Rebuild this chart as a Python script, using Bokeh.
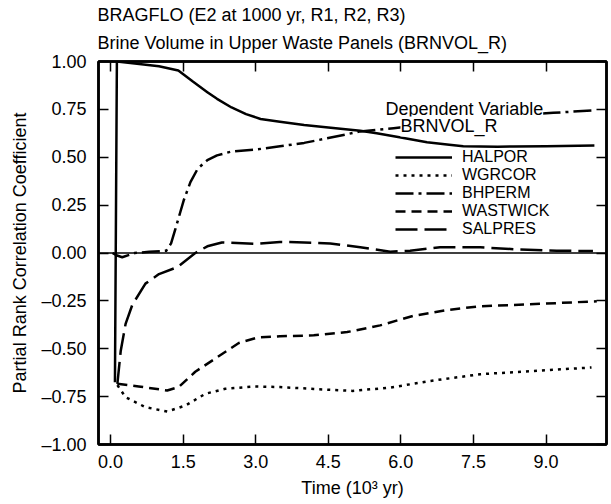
from bokeh.plotting import figure
from bokeh.models import (Range1d, LinearAxis, FixedTicker, Span, Label,
                          Legend, LegendItem, Title)
from bokeh.embed import file_html
from bokeh.resources import INLINE

FONT = "Liberation Sans"
FS = "18px"
LEG_FS = "16px"

# ---------------- text ----------------
title_line1 = "BRAGFLO (E2 at 1000 yr, R1, R2, R3)"
title_line2 = "Brine Volume in Upper Waste Panels (BRNVOL_R)"
x_label = "Time (10\u00b3 yr)"
y_label = "Partial Rank Correlation Coefficient"
dep_label1 = "Dependent Variable"
dep_label2 = "BRNVOL_R"

x_ticks = [0.0, 1.5, 3.0, 4.5, 6.0, 7.5, 9.0]
x_tick_labels = ["0.0", "1.5", "3.0", "4.5", "6.0", "7.5", "9.0"]
y_ticks = [-1.0, -0.75, -0.5, -0.25, 0.0, 0.25, 0.5, 0.75, 1.0]
y_tick_labels = ["\u20131.00", "\u20130.75", "\u20130.50", "\u20130.25", "0.00",
                 "0.25", "0.50", "0.75", "1.00"]

# ---------------- data (time in 10^3 yr) ----------------
halpor_t = [0.09, 0.13, 0.5, 1.0, 1.4, 1.7, 2.0, 2.2, 2.5, 2.8, 3.1, 3.5, 4.0,
            4.5, 5.16, 5.5, 6.0, 6.54, 7.0, 7.29, 8.0, 8.33, 9.0, 10.0]
halpor_v = [-0.675, 1.0, 0.99, 0.975, 0.953, 0.895, 0.84, 0.805, 0.76, 0.725,
            0.70, 0.685, 0.668, 0.655, 0.638, 0.625, 0.603, 0.578, 0.565,
            0.558, 0.555, 0.556, 0.558, 0.562]

wgrcor_t = [0.14, 0.31, 0.72, 1.17, 1.55, 1.96, 2.37, 2.99, 3.5, 4.2, 5.0,
            5.78, 6.61, 7.64, 8.67, 9.94]
wgrcor_v = [-0.69, -0.753, -0.805, -0.828, -0.796, -0.735, -0.709, -0.697,
            -0.70, -0.71, -0.72, -0.703, -0.668, -0.633, -0.617, -0.598]

bhperm_t = [0.04, 0.12, 0.24, 0.5, 0.8, 1.15, 1.25, 1.34, 1.51, 1.65, 1.8, 2.0,
            2.2, 2.5, 3.0, 3.5, 4.0, 4.5, 5.16, 5.85, 6.5, 7.5, 8.5, 9.15, 10.0]
bhperm_v = [0.0, -0.012, -0.022, 0.0, 0.006, 0.012, 0.05, 0.126, 0.274, 0.37,
            0.44, 0.485, 0.51, 0.53, 0.54, 0.557, 0.575, 0.60, 0.635, 0.652,
            0.67, 0.70, 0.72, 0.732, 0.745]

wastwick_t = [0.14, 0.58, 1.17, 1.41, 1.75, 2.17, 2.65, 3.06, 3.5, 4.2, 4.89,
              5.57, 6.26, 6.95, 7.64, 8.67, 10.05]
wastwick_v = [-0.683, -0.697, -0.718, -0.70, -0.62, -0.55, -0.47, -0.44,
              -0.435, -0.43, -0.413, -0.378, -0.328, -0.298, -0.278, -0.268,
              -0.252]

salpres_t = [0.14, 0.21, 0.31, 0.45, 0.72, 1.0, 1.38, 1.75, 2.0, 2.3, 3.0, 3.5,
             4.0, 4.54, 5.16, 5.78, 6.19, 6.81, 7.64, 8.33, 9.22, 9.97]
salpres_v = [-0.683, -0.51, -0.37, -0.27, -0.16, -0.11, -0.074, 0.0, 0.035,
             0.055, 0.048, 0.058, 0.055, 0.05, 0.03, 0.007, 0.012, 0.03, 0.03,
             0.02, 0.012, 0.01]

series = [
    ("HALPOR", halpor_t, halpor_v, "solid"),
    ("WGRCOR", wgrcor_t, wgrcor_v, "3 5"),
    ("BHPERM", bhperm_t, bhperm_v, "18 5 3 5"),
    ("WASTWICK", wastwick_t, wastwick_v, "10 6"),
    ("SALPRES", salpres_t, salpres_v, "22 7"),
]

# ---------------- figure ----------------
p = figure(width=611, height=504,
           x_range=Range1d(-0.25, 10.25), y_range=Range1d(-1.0, 1.0),
           output_backend="svg", toolbar_location=None,
           min_border_left=98, min_border_right=5,
           min_border_top=61, min_border_bottom=60)
p.xgrid.visible = False
p.ygrid.visible = False
p.outline_line_color = "black"
p.outline_line_width = 2.5
p.background_fill_color = "white"
p.border_fill_color = "white"


def style_axis(ax, ticks, labels, show):
    ax.ticker = FixedTicker(ticks=ticks)
    ax.major_tick_in = 10
    ax.major_tick_out = 0
    ax.minor_tick_in = 0
    ax.minor_tick_out = 0
    ax.major_tick_line_width = 1.5
    ax.major_tick_line_color = "black"
    ax.axis_line_width = 2.5
    ax.axis_line_color = "black"
    if show:
        ax.major_label_overrides = dict(zip(ticks, labels))
        ax.major_label_text_font = FONT
        ax.major_label_text_font_size = FS
        ax.major_label_text_color = "black"
        ax.axis_label_text_font = FONT
        ax.axis_label_text_font_size = FS
        ax.axis_label_text_font_style = "normal"
        ax.axis_label_text_color = "black"
    else:
        ax.major_label_overrides = {t: "" for t in ticks}
        ax.major_label_text_font_size = "0px"
        ax.major_label_standoff = 0


xa = p.xaxis[0]
style_axis(xa, x_ticks, x_tick_labels, True)
xa.axis_label = x_label
xa.major_label_standoff = 10
xa.axis_label_standoff = 7

ya = p.yaxis[0]
style_axis(ya, y_ticks, y_tick_labels, True)
ya.axis_label = y_label
ya.major_label_standoff = 12
ya.axis_label_standoff = 8

top_ax = LinearAxis()
style_axis(top_ax, x_ticks, x_tick_labels, False)
p.add_layout(top_ax, "above")

right_ax = LinearAxis()
style_axis(right_ax, y_ticks, y_tick_labels, False)
p.add_layout(right_ax, "right")

# two-line title, left-aligned with the frame (first added = nearest frame)
p.add_layout(Title(text=title_line2, align="left", text_font=FONT,
                   text_font_size=FS, text_font_style="normal",
                   text_color="black", standoff=17, offset=-1), "above")
p.add_layout(Title(text=title_line1, align="left", text_font=FONT,
                   text_font_size=FS, text_font_style="normal",
                   text_color="black", standoff=-5, offset=-1), "above")

p.add_layout(Span(location=0, dimension="width", line_color="black",
                  line_width=1.3))

renderers = []
for name, t, v, dash in series:
    r = p.line(t, v, line_color="black", line_width=2.5, line_dash=dash,
               line_join="round")
    renderers.append((name, r))

# label placed over the BHPERM curve (white box hides the line beneath)
for txt, lx, ly in [(dep_label1, 5.68, 0.751), (dep_label2, 5.99, 0.661)]:
    p.add_layout(Label(x=lx, y=ly, text=txt, text_font=FONT, text_font_size=FS,
                       text_color="black", text_baseline="alphabetic",
                       background_fill_color="white"))

# legend: one entry per row
legend_x = 297
legend_row_centers = [286.7, 268.7, 250.7, 232.7, 214.7]
for (name, r), cy in zip(renderers, legend_row_centers):
    lg = Legend(items=[LegendItem(label=name, renderers=[r])],
                location=(legend_x, cy - 9), glyph_width=57, glyph_height=16,
                label_height=16, label_standoff=10, padding=0, margin=0,
                spacing=0, border_line_color=None, background_fill_alpha=0,
                label_text_font=FONT, label_text_font_size=LEG_FS,
                label_text_color="black", label_text_baseline="middle")
    p.add_layout(lg)

open("out.html", "w").write(file_html(p, INLINE))
